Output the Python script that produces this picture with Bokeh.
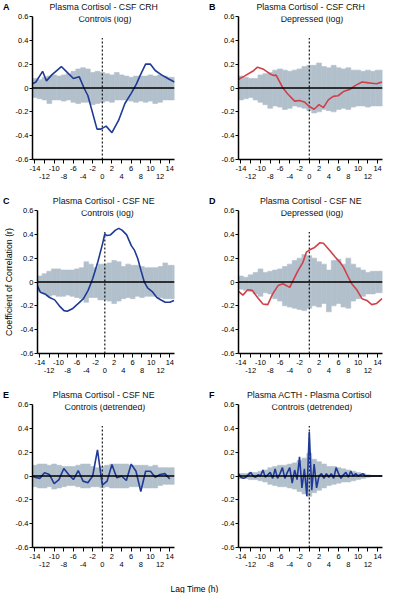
from bokeh.plotting import figure
from bokeh.models import Range1d, FixedTicker, LinearAxis, Label, Span
from bokeh.layouts import column, row
from bokeh.embed import file_html
from bokeh.resources import INLINE
from bokeh.core.properties import value

FONT = "Liberation Sans"
BLUE = "#1f3a96"
RED = "#d0404a"
BAND = "#b2c0cc"

# ---------------- axes / ticks ----------------
y_ticks = [-0.6, -0.4, -0.2, 0, 0.2, 0.4, 0.6]
y_tick_labels = ["-0.6", "-0.4", "-0.2", "0", "0.2", "0.4", "0.6"]
x_ticks_upper = [-14, -10, -6, -2, 2, 6, 10, 14]
x_ticks_lower = [-12, -8, -4, 0, 4, 8, 12]
lag_range = (-14.5, 15.0)
r_range = (-0.6, 0.6)
zero_level = 0
lag_zero = 0
dotted_top = 0.42

# ---------------- significance bands (per 1-h lag) ----------------
band_lags = list(range(-14, 16))
A_hi = [0.08, 0.07, 0.09, 0.10, 0.11, 0.10, 0.11, 0.12, 0.14, 0.16, 0.17, 0.16, 0.13, 0.14, 0.13,
        0.12, 0.11, 0.13, 0.11, 0.10, 0.09, 0.10, 0.10, 0.10, 0.11, 0.10, 0.11, 0.10, 0.09, 0.09]
A_lo = [-0.08, -0.09, -0.10, -0.13, -0.10, -0.10, -0.11, -0.10, -0.12, -0.13, -0.12, -0.12, -0.14, -0.13, -0.12,
        -0.11, -0.12, -0.10, -0.10, -0.10, -0.11, -0.12, -0.11, -0.12, -0.11, -0.13, -0.12, -0.10, -0.10, -0.10]
B_hi = [0.10, 0.09, 0.08, 0.08, 0.11, 0.12, 0.13, 0.15, 0.16, 0.15, 0.14, 0.15, 0.16, 0.18, 0.19,
        0.19, 0.21, 0.18, 0.17, 0.19, 0.17, 0.16, 0.17, 0.15, 0.15, 0.14, 0.15, 0.14, 0.15, 0.15]
B_lo = [-0.10, -0.09, -0.08, -0.10, -0.12, -0.14, -0.17, -0.15, -0.16, -0.18, -0.17, -0.15, -0.16, -0.17, -0.19,
        -0.21, -0.20, -0.18, -0.19, -0.20, -0.18, -0.17, -0.18, -0.16, -0.15, -0.15, -0.16, -0.15, -0.15, -0.15]
C_hi = [0.05, 0.07, 0.09, 0.11, 0.11, 0.10, 0.10, 0.10, 0.11, 0.12, 0.17, 0.15, 0.12, 0.15, 0.15,
        0.16, 0.18, 0.17, 0.13, 0.15, 0.14, 0.14, 0.13, 0.12, 0.12, 0.12, 0.13, 0.16, 0.14, 0.14]
C_lo = [-0.08, -0.10, -0.12, -0.11, -0.12, -0.12, -0.11, -0.12, -0.13, -0.14, -0.17, -0.13, -0.13, -0.15, -0.15,
        -0.16, -0.18, -0.16, -0.14, -0.13, -0.14, -0.12, -0.13, -0.12, -0.12, -0.12, -0.13, -0.14, -0.14, -0.14]
D_hi = [0.05, 0.04, 0.06, 0.08, 0.11, 0.08, 0.09, 0.10, 0.11, 0.13, 0.15, 0.18, 0.20, 0.23, 0.22,
        0.20, 0.17, 0.15, 0.10, 0.18, 0.19, 0.15, 0.20, 0.15, 0.12, 0.10, 0.08, 0.09, 0.09, 0.09]
D_lo = [-0.06, -0.07, -0.08, -0.10, -0.12, -0.09, -0.10, -0.14, -0.16, -0.20, -0.21, -0.22, -0.23, -0.24, -0.22,
        -0.20, -0.21, -0.18, -0.25, -0.20, -0.18, -0.21, -0.22, -0.16, -0.14, -0.12, -0.10, -0.10, -0.09, -0.09]
E_hi = [0.09, 0.10, 0.10, 0.09, 0.10, 0.09, 0.08, 0.08, 0.08, 0.09, 0.10, 0.10, 0.08, 0.07, 0.08,
        0.09, 0.10, 0.10, 0.10, 0.10, 0.09, 0.09, 0.09, 0.09, 0.08, 0.09, 0.07, 0.07, 0.07, 0.07]
E_lo = [-0.09, -0.10, -0.10, -0.09, -0.11, -0.10, -0.09, -0.08, -0.08, -0.09, -0.10, -0.10, -0.09, -0.09, -0.10,
        -0.09, -0.10, -0.10, -0.10, -0.10, -0.09, -0.09, -0.09, -0.10, -0.10, -0.10, -0.08, -0.07, -0.07, -0.07]
F_hi = [0.02, 0.02, 0.03, 0.03, 0.04, 0.05, 0.07, 0.08, 0.09, 0.09, 0.10, 0.11, 0.13, 0.15, 0.19,
        0.14, 0.12, 0.10, 0.08, 0.08, 0.07, 0.06, 0.05, 0.04, 0.03, 0.02, 0.01, 0.005, 0.003, 0.0]
F_lo = [-0.02, -0.02, -0.03, -0.03, -0.04, -0.05, -0.07, -0.08, -0.09, -0.09, -0.10, -0.11, -0.13, -0.15, -0.17,
        -0.14, -0.12, -0.10, -0.08, -0.07, -0.06, -0.05, -0.05, -0.04, -0.03, -0.02, -0.01, -0.005, -0.003, 0.0]

# ---------------- cross-correlation curves ----------------
A_x = [-14.5, -13.8, -12.4, -11.6, -10.5, -8.5, -7.5, -6.0, -4.8, -3.8, -3.0, -1.1, -0.3, 0.8, 2.0,
       3.4, 4.7, 6.0, 7.1, 7.8, 9.0, 10.0, 11.0, 12.3, 13.8, 15.0]
A_y = [0.035, 0.05, 0.14, 0.06, 0.11, 0.18, 0.14, 0.08, 0.095, 0.0, -0.063, -0.345, -0.345, -0.32, -0.375,
       -0.27, -0.13, -0.045, 0.035, 0.10, 0.20, 0.20, 0.147, 0.11, 0.075, 0.05]
B_x = [-14.6, -13.3, -11.6, -10.6, -9.5, -8.1, -7.3, -6.8, -5.4, -4.4, -3.0, -2.0, -0.9, 0.0, 1.0, 2.0,
       2.9, 3.9, 4.9, 5.9, 7.0, 8.4, 9.4, 10.8, 11.8, 12.8, 13.8, 14.9]
B_y = [0.07, 0.10, 0.14, 0.175, 0.16, 0.12, 0.105, 0.108, 0.0, -0.05, -0.11, -0.105, -0.12, -0.155, -0.178, -0.14,
       -0.165, -0.10, -0.07, -0.065, -0.03, -0.01, 0.02, 0.05, 0.045, 0.04, 0.035, 0.05]
C_x = [-14.7, -13.9, -12.9, -11.9, -10.8, -9.8, -8.8, -8.1, -7.0, -5.7, -4.6, -3.6, -2.6, -1.5, -0.5, 0.0,
       0.4, 1.2, 2.3, 3.0, 3.7, 4.7, 5.7, 6.4, 7.1, 7.8, 8.5, 9.2, 10.2, 11.2, 12.3, 13.0, 14.0, 14.9]
C_y = [-0.015, -0.085, -0.10, -0.13, -0.15, -0.20, -0.24, -0.245, -0.225, -0.18, -0.14, -0.07, 0.03, 0.17, 0.32, 0.405,
       0.39, 0.395, 0.435, 0.45, 0.435, 0.395, 0.305, 0.265, 0.195, 0.095, 0.0, -0.05, -0.08, -0.13, -0.155, -0.17, -0.17, -0.155]
D_x = [-14.6, -13.6, -12.6, -11.7, -10.6, -9.5, -8.5, -7.5, -6.4, -5.4, -4.0, -3.4, -2.3, -1.3, -0.6, 0.1,
       1.1, 2.2, 2.9, 4.2, 5.3, 6.3, 7.0, 8.0, 8.7, 9.8, 10.8, 11.8, 12.8, 13.8, 14.9]
D_y = [-0.075, -0.11, -0.065, -0.07, -0.13, -0.185, -0.19, -0.10, -0.03, -0.015, -0.045, 0.005, 0.095, 0.165, 0.25, 0.27,
       0.29, 0.33, 0.325, 0.265, 0.21, 0.165, 0.125, 0.04, -0.015, -0.07, -0.14, -0.155, -0.19, -0.18, -0.14]
E_x = [-15, -14, -13, -12, -11, -10, -9, -8, -7, -6, -5, -4, -3, -2, -1,
       0, 1, 2, 3, 4, 5, 6, 7, 8, 9, 10, 11, 12, 13, 14]
E_y = [0.012, -0.01, -0.02, 0.027, 0.013, -0.063, -0.03, 0.063, 0.013, -0.03, 0.046, -0.043, -0.057, 0.0, 0.22,
       -0.077, -0.043, 0.097, -0.015, 0.0, -0.038, 0.10, 0.04, -0.13, 0.04, 0.04, -0.01, 0.013, 0.02, -0.024]
F_x = [-14.5, -14.0, -13.5, -13.0, -12.5, -12.0, -11.5, -11.0, -10.5, -10.0, -9.5, -9.0, -8.5, -8.0, -7.5,
       -7.0, -6.5, -6.0, -5.5, -5.0, -4.5, -4.0, -3.5, -3.0, -2.5, -2.0, -1.5, -1.0, -0.5, 0.0,
       0.5, 1.0, 1.5, 2.0, 2.5, 3.0, 3.5, 4.0, 4.5, 5.0, 5.5, 6.0, 6.5, 7.0, 7.5,
       8.0, 8.5, 9.0, 9.5, 10.0, 10.5, 11.0, 11.5, 12.0, 13.0, 14.0, 15.0]
F_y = [0.02, -0.01, -0.02, -0.01, 0.01, 0.03, 0.0, -0.01, 0.01, 0.0, 0.05, -0.01, 0.01, 0.03, -0.02,
       0.06, -0.02, 0.02, 0.07, -0.02, 0.03, 0.07, -0.06, 0.05, -0.03, 0.16, -0.10, 0.06, -0.17, 0.37,
       -0.12, 0.10, -0.10, 0.0, 0.02, -0.02, 0.02, -0.01, 0.02, -0.02, 0.07, 0.02, -0.02, 0.01, 0.03,
       -0.01, 0.04, 0.0, 0.02, 0.0, 0.01, 0.02, 0.0, 0.0, 0.0, 0.0, 0.0]

panel_letters = ["A", "B", "C", "D", "E", "F"]
panel_titles = ["Plasma Cortisol -  CSF CRH", "Plasma Cortisol -  CSF CRH",
                "Plasma Cortisol -  CSF NE", "Plasma Cortisol -  CSF NE",
                "Plasma Cortisol -  CSF NE", "Plasma ACTH -   Plasma Cortisol"]
panel_groups = ["Controls (log)", "Depressed (log)", "Controls (log)", "Depressed (log)",
                "Controls (detrended)", "Controls (detrended)"]
series_x = [A_x, B_x, C_x, D_x, E_x, F_x]
series_y = [A_y, B_y, C_y, D_y, E_y, F_y]
series_color = [BLUE, RED, BLUE, RED, BLUE, BLUE]
bands_hi = [A_hi, B_hi, C_hi, D_hi, E_hi, F_hi]
bands_lo = [A_lo, B_lo, C_lo, D_lo, E_lo, F_lo]
y_axis_title = "Coefficient of Correlation (r)"
x_axis_title = "Lag Time (h)"

# ---------------- geometry ----------------
TOTAL_W = 384
COL_W = 192
HEAD_H = 11
TOP = 5
FRAME_H = 143
BOTTOM = 35
BORDER_L = [32, 46]
FRAME_W = [142, 144]


def make_panel(i):
    col = i % 2
    bl, fw = BORDER_L[col], FRAME_W[col]
    p = figure(width=COL_W, height=TOP + FRAME_H + BOTTOM,
               x_range=Range1d(*lag_range), y_range=Range1d(*r_range),
               toolbar_location=None, output_backend="svg", title=None,
               min_border_left=bl, min_border_right=COL_W - bl - fw,
               min_border_top=TOP, min_border_bottom=BOTTOM,
               outline_line_color=None, background_fill_color="white", border_fill_color="white")
    p.xgrid.visible = False
    p.ygrid.visible = False

    p.vbar(x=band_lags, width=1, top=bands_hi[i], bottom=bands_lo[i], fill_color=BAND,
           line_color=BAND, line_width=0.6)
    p.add_layout(Span(location=zero_level, dimension="width", line_color="black", line_width=1.4))
    p.segment(x0=[lag_zero], y0=[r_range[0]], x1=[lag_zero], y1=[dotted_top],
              line_color="black", line_width=1.1, line_dash="2 2")
    p.line(series_x[i], series_y[i], line_color=series_color[i], line_width=1.6)

    ya = p.yaxis[0]
    ya.ticker = FixedTicker(ticks=y_ticks)
    ya.major_label_overrides = dict(zip(y_ticks, y_tick_labels))
    ya.major_tick_out = 3
    ya.major_tick_in = 0
    ya.minor_tick_line_color = None
    ya.axis_line_width = 1.5
    ya.major_label_standoff = 1
    ya.major_label_text_font = FONT
    ya.major_label_text_font_size = "7.5px"
    ya.major_label_text_color = "black"
    if panel_letters[i] == "C":
        ya.axis_label = y_axis_title
        ya.axis_label_text_font = FONT
        ya.axis_label_text_font_size = "8.8px"
        ya.axis_label_text_font_style = "normal"
        ya.axis_label_text_color = "black"
        ya.axis_label_standoff = 4

    xa = p.xaxis[0]
    xa.ticker = FixedTicker(ticks=sorted(x_ticks_upper + x_ticks_lower))
    ov = {t: str(t) for t in x_ticks_upper}
    ov.update({t: "" for t in x_ticks_lower})
    xa.major_label_overrides = ov
    xa.major_tick_out = 4
    xa.major_tick_in = 0
    xa.minor_tick_line_color = None
    xa.axis_line_width = 1.5
    xa.major_label_standoff = 2
    xa.major_label_text_font = FONT
    xa.major_label_text_font_size = "7.5px"
    xa.major_label_text_color = "black"
    xa2 = LinearAxis(ticker=FixedTicker(ticks=x_ticks_lower),
                     major_label_overrides={t: str(t) for t in x_ticks_lower},
                     axis_line_color=None, major_tick_line_color=None, minor_tick_line_color=None,
                     major_tick_out=0, major_tick_in=0, major_label_standoff=0,
                     major_label_text_font=FONT, major_label_text_font_size="7.5px",
                     major_label_text_color="black")
    p.add_layout(xa2, "below")

    # second title line sits just inside the top of the frame
    y2 = r_range[1] - 2.2 * (r_range[1] - r_range[0]) / FRAME_H
    xc = lag_range[0] + 0.51 * (lag_range[1] - lag_range[0])
    p.add_layout(Label(x=xc, y=y2, text=panel_groups[i], text_align="center", text_baseline="middle",
                       text_font=FONT, text_font_size="8.8px", text_color="#111111"))
    return p


def make_header(r):
    h = figure(width=TOTAL_W, height=HEAD_H, x_range=Range1d(0, TOTAL_W), y_range=Range1d(0, HEAD_H),
               toolbar_location=None, output_backend="svg", title=None, min_border=0,
               outline_line_color=None)
    h.axis.visible = False
    h.grid.visible = False
    idx = [2 * r, 2 * r + 1]
    frame_left = [BORDER_L[0], COL_W + BORDER_L[1]]
    letter_x = [fl - 29.5 for fl in frame_left]
    title_x = [fl + 0.51 * fw for fl, fw in zip(frame_left, FRAME_W)]
    h.text(x=letter_x, y=[HEAD_H / 2] * 2, text=[panel_letters[k] for k in idx],
           text_align="left", text_baseline="middle", text_font=value(FONT),
           text_font_style="bold", text_font_size="9px", text_color="black")
    h.text(x=title_x, y=[HEAD_H / 2] * 2, text=[panel_titles[k] for k in idx],
           text_align="center", text_baseline="middle", text_font=value(FONT),
           text_font_size="8.8px", text_color="#111111")
    return h


figs = [make_panel(i) for i in range(6)]

footer = figure(width=TOTAL_W, height=11, x_range=Range1d(0, TOTAL_W), y_range=Range1d(0, 11),
                toolbar_location=None, output_backend="svg", title=None,
                min_border=0, outline_line_color=None)
footer.axis.visible = False
footer.grid.visible = False
footer.text(x=[194], y=[5.5], text=[x_axis_title], text_align="center", text_baseline="middle",
            text_font=value(FONT), text_font_size="8.5px", text_color="black")

layout = column(make_header(0), row(figs[0], figs[1]),
                make_header(1), row(figs[2], figs[3]),
                make_header(2), row(figs[4], figs[5]),
                footer)
open("out.html", "w").write(file_html(layout, INLINE))
